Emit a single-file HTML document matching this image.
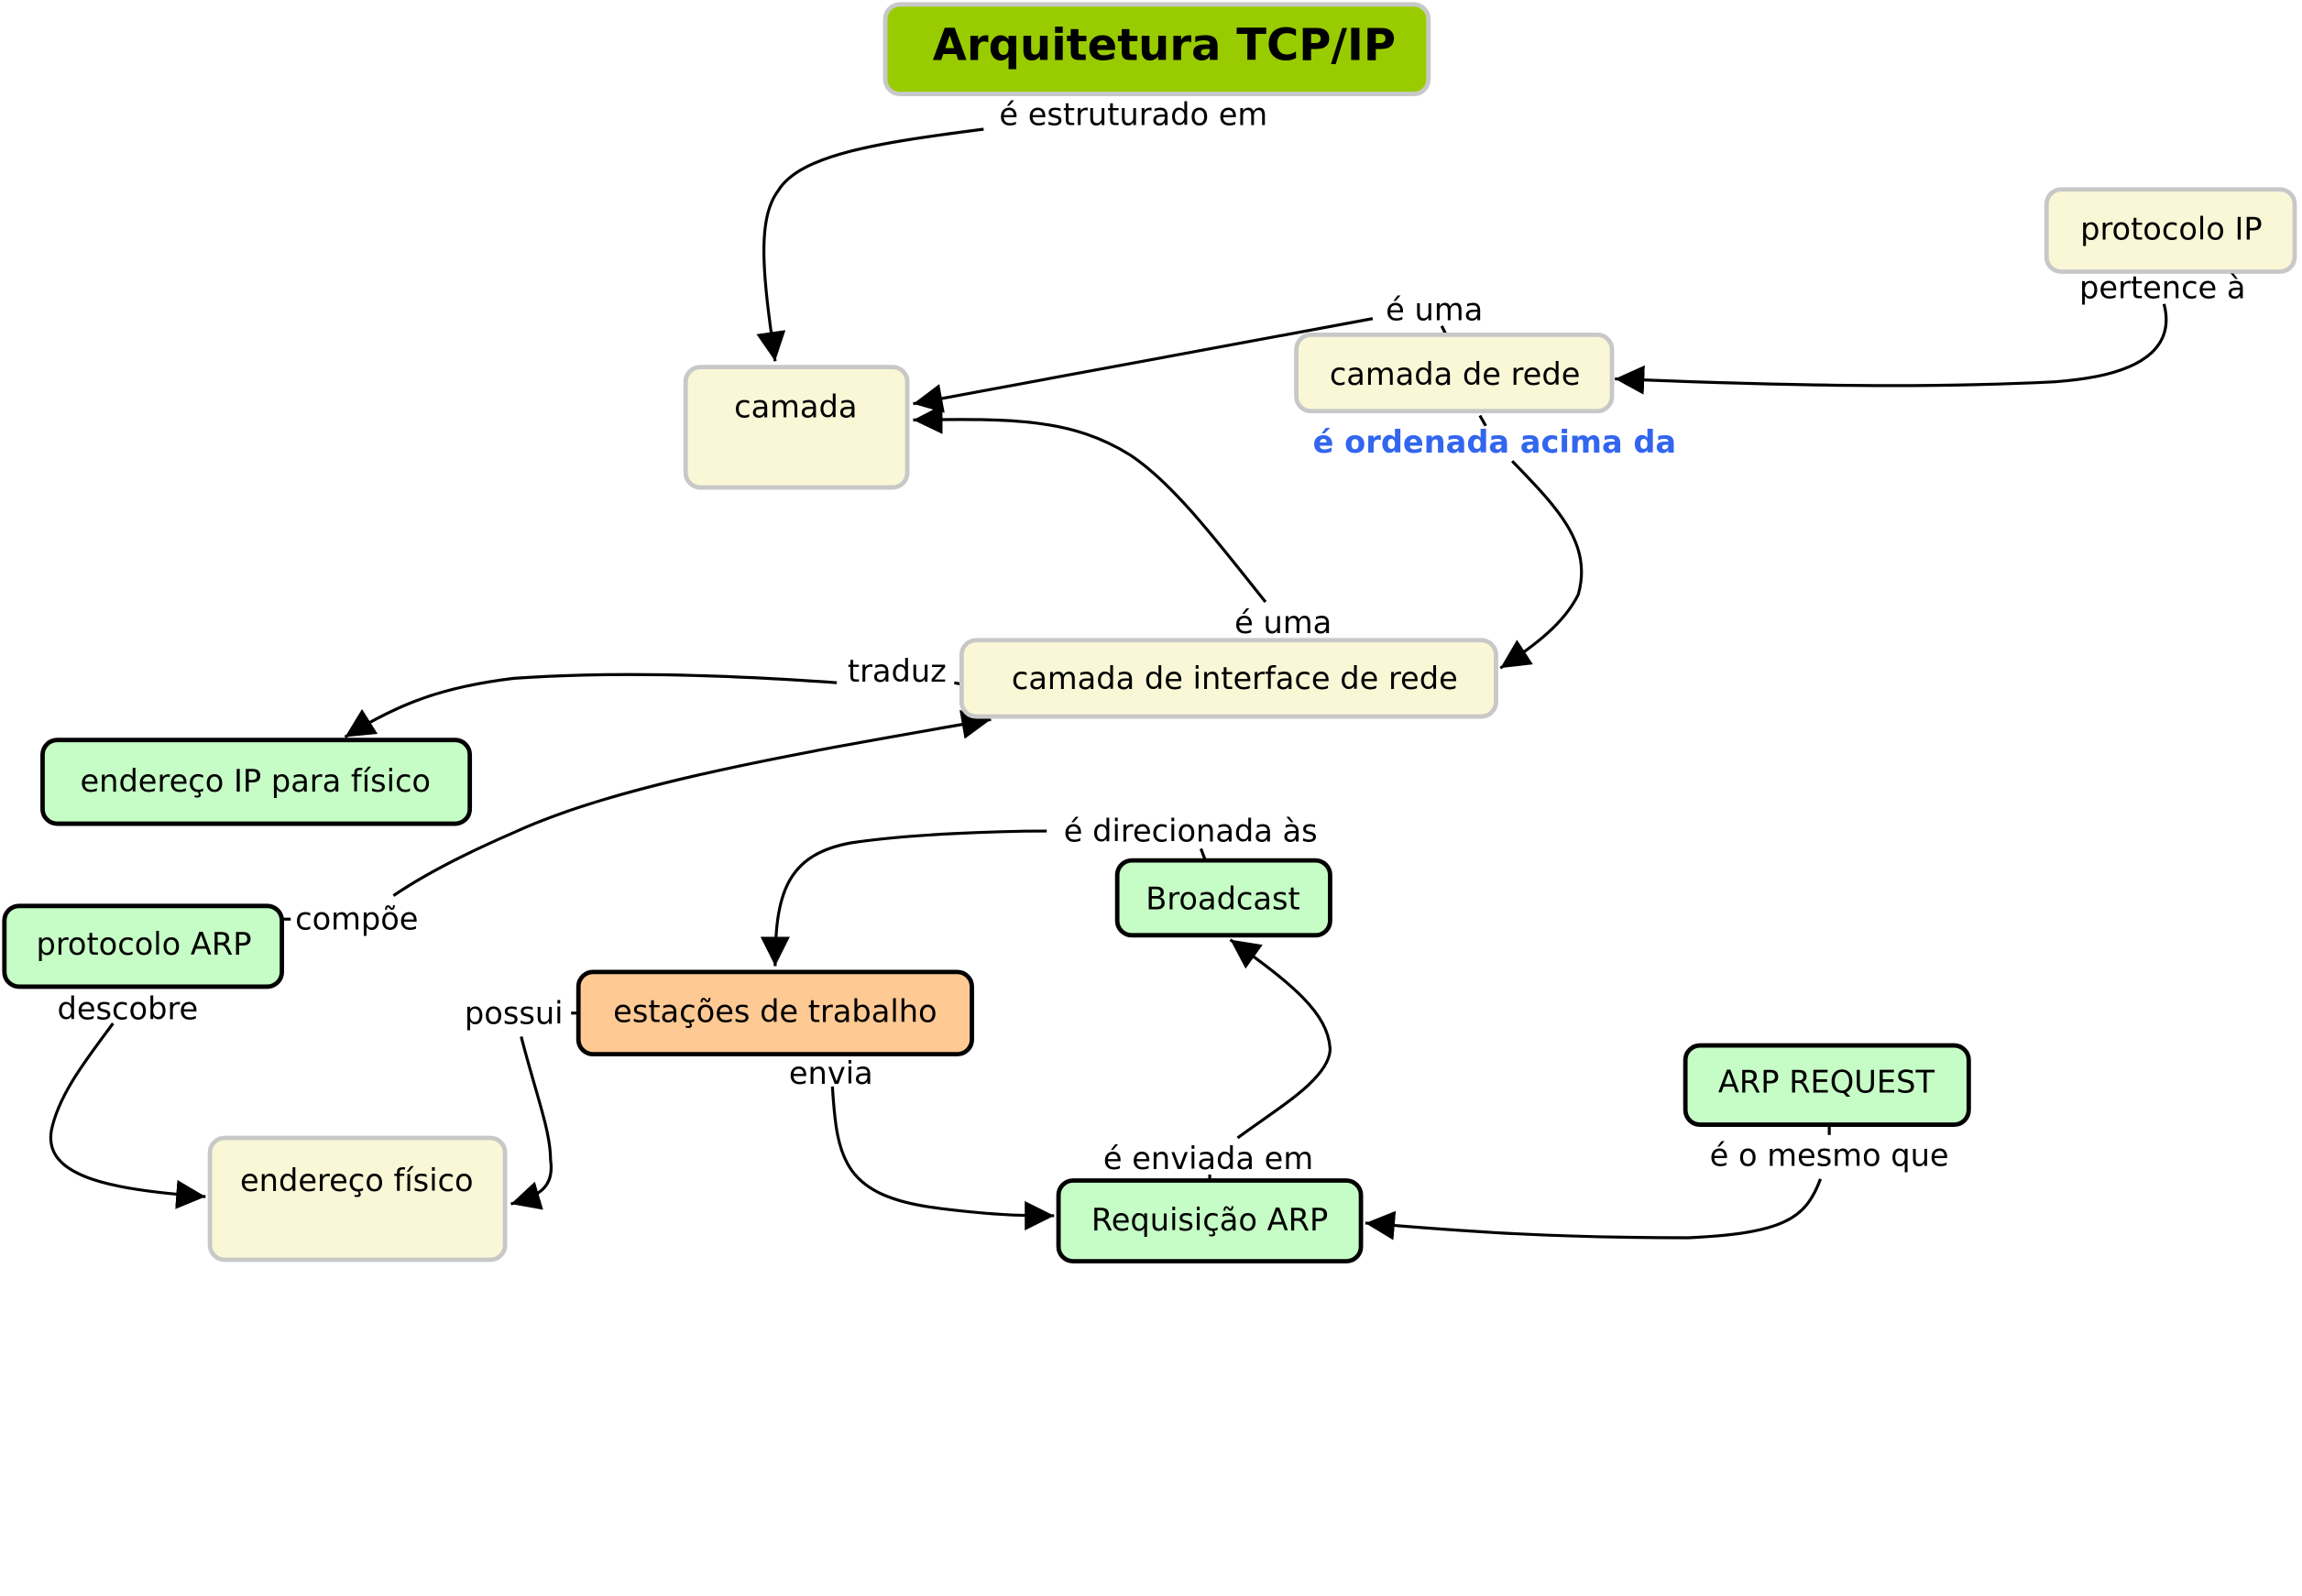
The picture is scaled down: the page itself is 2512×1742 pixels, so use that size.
<!DOCTYPE html>
<html><head><meta charset="utf-8"><style>
html,body{margin:0;padding:0;background:#fff;}
svg{display:block;}
text{font-family:"DejaVu Sans","Liberation Sans",sans-serif;font-size:21px;fill:#000;text-anchor:middle;dominant-baseline:central;}
</style></head><body>
<svg width="2512" height="1742" viewBox="0 0 1568 1087" preserveAspectRatio="none" xmlns="http://www.w3.org/2000/svg">
<defs>
<marker id="a" markerUnits="userSpaceOnUse" markerWidth="22" markerHeight="20" refX="20" refY="10" orient="auto"><path d="M0,0 L20,10 L0,20 z" fill="#000"/></marker>
</defs>
<g fill="none" stroke="#000" stroke-width="2">
<path d="M670,88 C600,97 545,105 530,130 C515,150 520,190 528,246" marker-end="url(#a)"/>
<path d="M935,217 L622,275" marker-end="url(#a)"/>
<path d="M982,222 L985,228"/>
<path d="M1474,207 C1480,230 1470,255 1400,260 C1300,265 1200,262 1100,258" marker-end="url(#a)"/>
<path d="M1008,283 L1012,290"/>
<path d="M1030,314 C1060,345 1085,370 1075,405 C1065,425 1045,440 1022,455" marker-end="url(#a)"/>
<path d="M862,410 C830,370 800,330 770,310 C730,285 690,285 622,286" marker-end="url(#a)"/>
<path d="M570,465 C500,460 420,457 350,462 C300,468 270,480 235,502" marker-end="url(#a)"/>
<path d="M650,465 L655,466"/>
<path d="M268,610 C290,595 320,580 350,567 C420,535 530,515 675,490" marker-end="url(#a)"/>
<path d="M192,626 L198,626"/>
<path d="M77,697 C60,720 40,745 35,770 C30,800 70,810 140,815" marker-end="url(#a)"/>
<path d="M389,690 L396,690"/>
<path d="M355,706 C365,745 375,770 375,790 C378,810 365,815 348,820" marker-end="url(#a)"/>
<path d="M567,740 C570,790 575,815 640,823 C680,828 700,828 718,828" marker-end="url(#a)"/>
<path d="M713,566 C680,566 620,568 580,574 C535,582 528,610 528,658" marker-end="url(#a)"/>
<path d="M818,578 L821,586"/>
<path d="M843,775 C870,755 905,735 906,715 C905,690 880,670 838,640" marker-end="url(#a)"/>
<path d="M824,800 L824,804"/>
<path d="M1240,803 C1230,830 1215,840 1150,843 C1050,843 990,838 930,833" marker-end="url(#a)"/>
<path d="M1246,766 L1246,773"/>
</g>
<g stroke-width="3">
<rect x="603" y="3" width="370" height="61" rx="10" fill="#99cc00" stroke="#c8c8c8"/>
<rect x="467" y="250" width="151" height="82" rx="10" fill="#f9f7d6" stroke="#c8c8c8"/>
<rect x="883" y="228" width="215" height="52" rx="10" fill="#f9f7d6" stroke="#c8c8c8"/>
<rect x="1394" y="129" width="169" height="56" rx="10" fill="#f9f7d6" stroke="#c8c8c8"/>
<rect x="655" y="436" width="364" height="52" rx="10" fill="#f9f7d6" stroke="#c8c8c8"/>
<rect x="143" y="775" width="201" height="83" rx="10" fill="#f9f7d6" stroke="#c8c8c8"/>
<rect x="29" y="504" width="291" height="57" rx="10" fill="#c6fcc6" stroke="#000"/>
<rect x="3" y="617" width="189" height="55" rx="10" fill="#c6fcc6" stroke="#000"/>
<rect x="394" y="662" width="268" height="56" rx="10" fill="#ffc994" stroke="#000"/>
<rect x="761" y="586" width="145" height="51" rx="10" fill="#c6fcc6" stroke="#000"/>
<rect x="1148" y="712" width="193" height="54" rx="10" fill="#c6fcc6" stroke="#000"/>
<rect x="721" y="804" width="206" height="55" rx="10" fill="#c6fcc6" stroke="#000"/>
</g>
<text x="793" y="31" style="font-size:30px;font-weight:bold">Arquitetura TCP/IP</text>
<text x="542" y="277">camada</text>
<text x="991" y="255">camada de rede</text>
<text x="1479" y="156">protocolo IP</text>
<text x="841" y="462">camada de interface de rede</text>
<text x="243" y="804">endereço físico</text>
<text x="174" y="532">endereço IP para físico</text>
<text x="98" y="643">protocolo ARP</text>
<text x="528" y="689">estações de trabalho</text>
<text x="833" y="612">Broadcast</text>
<text x="1244" y="737">ARP REQUEST</text>
<text x="824" y="831">Requisição ARP</text>
<text x="772" y="78">é estruturado em</text>
<text x="977" y="211">é uma</text>
<text x="1473" y="196">pertence à</text>
<text x="1018" y="301" style="fill:#3366ee;font-weight:bold">é ordenada acima da</text>
<text x="874" y="424">é uma</text>
<text x="611" y="457">traduz</text>
<text x="243" y="626">compõe</text>
<text x="87" y="687">descobre</text>
<text x="350" y="690">possui</text>
<text x="566" y="731">envia</text>
<text x="811" y="566">é direcionada às</text>
<text x="823" y="789">é enviada em</text>
<text x="1246" y="787">é o mesmo que</text>
</svg>
</body></html>
